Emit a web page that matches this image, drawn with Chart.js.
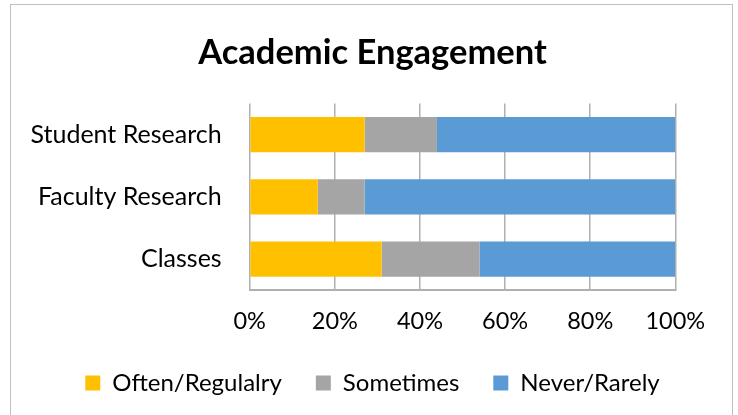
<!DOCTYPE html>
<html>
<head>
<meta charset="utf-8">
<script src="https://cdn.jsdelivr.net/npm/chart.js@4"></script>
<style>
  html, body { margin: 0; padding: 0; background: #fff; }
  #wrap { position: absolute; left: 0; top: 0; width: 738px; height: 415px; }
  #frame { position: absolute; left: 10px; top: 4px; width: 723px; height: 430px; border: 1px solid #bfbfbf; box-sizing: border-box; pointer-events: none; }
</style>
</head>
<body>
<div id="wrap"><canvas id="c" width="738" height="415"></canvas></div>
<div id="frame"></div>
<script>
const categories = ['Student Research', 'Faculty Research', 'Classes'];
const seriesNames = ['Often/Regulalry', 'Sometimes', 'Never/Rarely'];
const oftenValues = [27, 16, 31];
const sometimesValues = [17, 11, 23];
const neverValues = [56, 73, 46];
const tickValues = [0, 20, 40, 60, 80, 100];
const seriesColors = ['#FFC000', '#A5A5A5', '#5B9BD5'];

const FONT = 'Lato';
Chart.defaults.font.family = FONT;
Chart.defaults.color = '#000';

new Chart(document.getElementById('c'), {
  type: 'bar',
  data: {
    labels: categories,
    datasets: [oftenValues, sometimesValues, neverValues].map((vals, i) => ({
      label: seriesNames[i],
      data: vals,
      backgroundColor: seriesColors[i],
      borderWidth: 0,
      barPercentage: 0.567,
      categoryPercentage: 1
    }))
  },
  options: {
    indexAxis: 'y',
    responsive: false,
    animation: false,
    layout: { padding: { left: 11, right: 4, top: 5, bottom: 10 } },
    plugins: {
      title: {
        display: true,
        text: 'Academic Engagement',
        color: '#000',
        font: { family: FONT, size: 34.5, weight: 'bold' },
        padding: { top: 27, bottom: 30 }
      },
      legend: {
        position: 'bottom',
        labels: {
          color: '#000',
          font: { family: FONT, size: 24 },
          boxWidth: 15,
          boxHeight: 15,
          padding: 34
        }
      },
      tooltip: { enabled: false }
    },
    scales: {
      x: {
        stacked: true,
        min: 0,
        max: 100,
        afterBuildTicks: (s) => { s.ticks = tickValues.map(v => ({ value: v })); },
        ticks: {
          color: '#000',
          font: { family: FONT, size: 23.5 },
          padding: 17,
          callback: (v) => v + '%'
        },
        grid: { color: '#b0b0b0', lineWidth: 1.5, drawTicks: false },
        border: { display: true, color: '#b0b0b0', width: 2 },
        afterFit: (s) => { s.height = 46.7; }
      },
      y: {
        stacked: true,
        ticks: {
          color: '#000',
          font: { family: FONT, size: 25 },
          padding: 28
        },
        grid: { display: false, drawTicks: false },
        border: { display: false },
        afterFit: (s) => { s.width = 238.7; }
      },
      yR: {
        type: 'linear',
        position: 'right',
        display: true,
        grid: { display: false, drawTicks: false },
        border: { display: false },
        ticks: { display: false },
        afterFit: (s) => { s.width = 58.7; }
      }
    }
  }
});
</script>
</body>
</html>
